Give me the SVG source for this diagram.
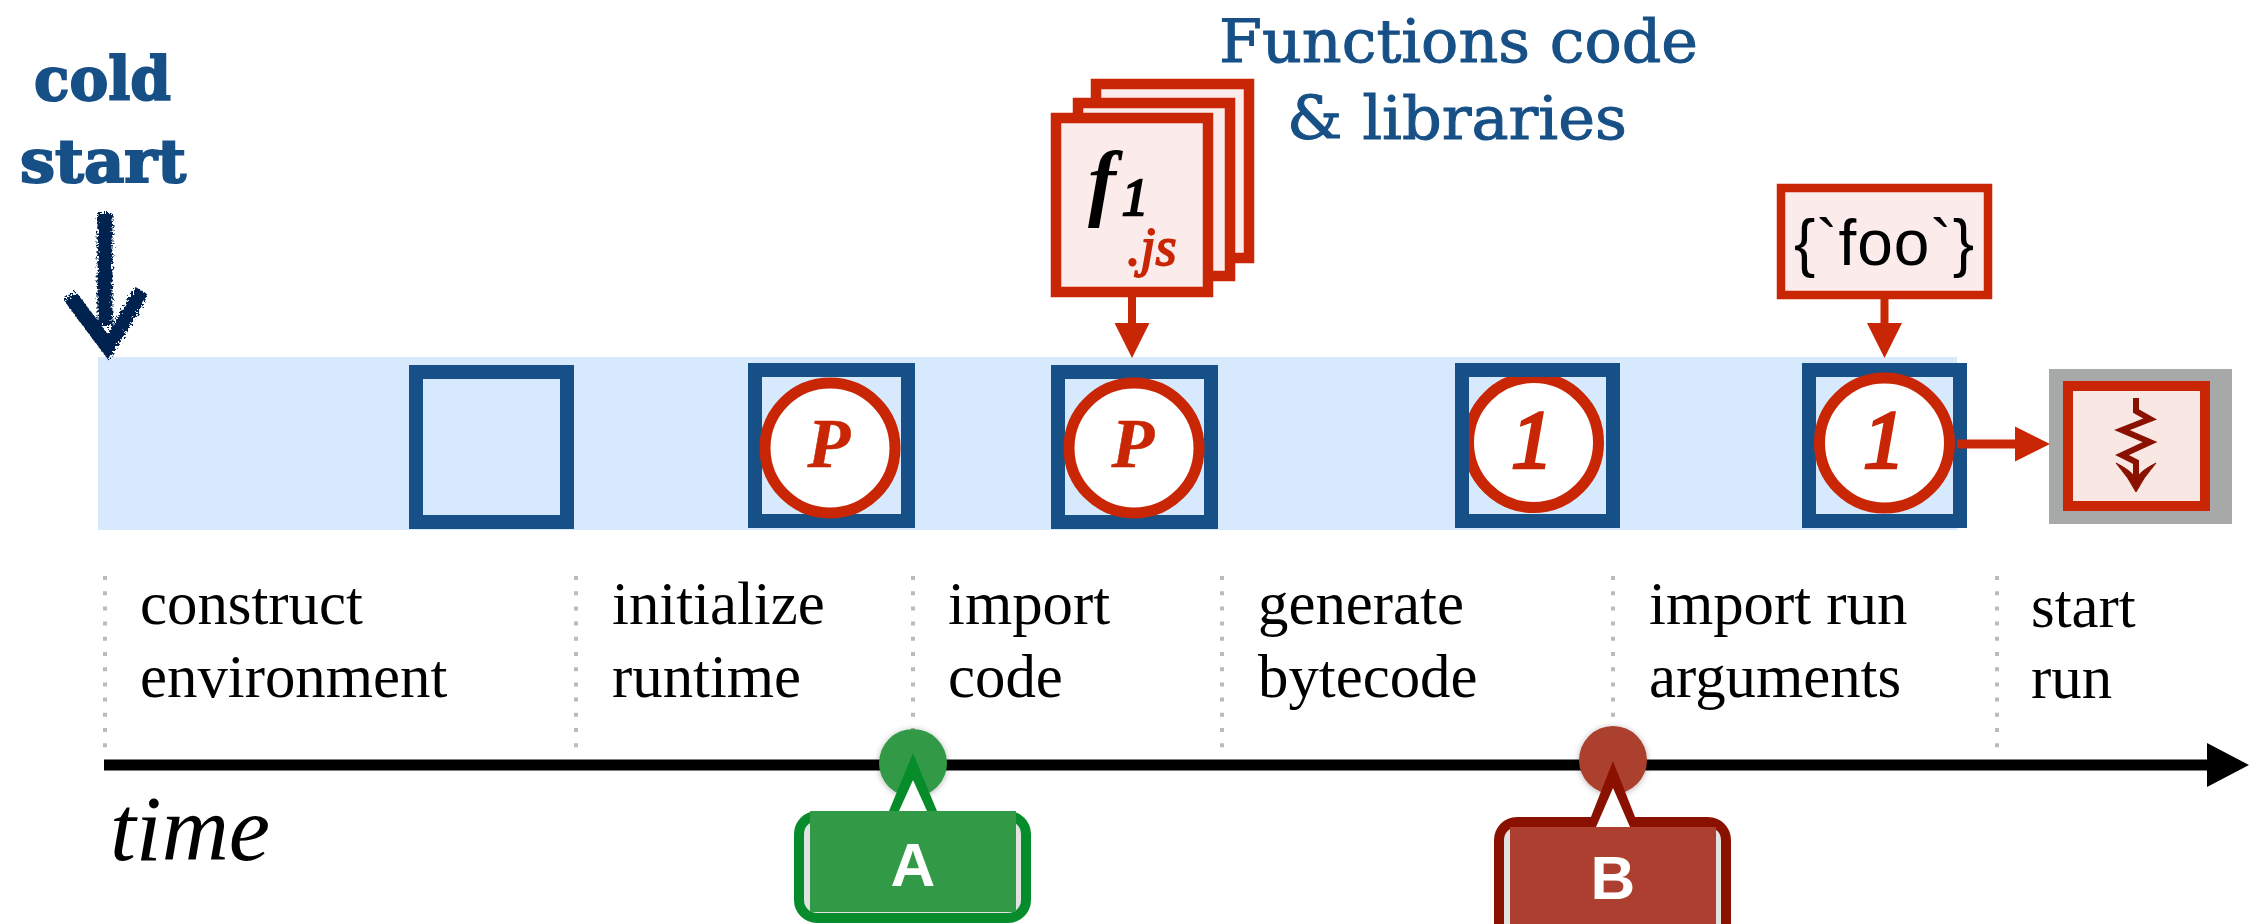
<svg xmlns="http://www.w3.org/2000/svg" width="2249" height="924" viewBox="0 0 2249 924">
<style>
.lbl{font-family:"Liberation Serif","Times New Roman",serif;font-size:60.8px;fill:#000}
.slab{font-family:"DejaVu Serif",serif;fill:#175086;stroke:#175086}
.sq{fill:none;stroke:#165087;stroke-width:14}
.cir{fill:#fff;stroke:#c92605;stroke-width:11}
.num{font-family:"Liberation Serif",serif;font-style:italic;fill:#c92605;stroke:#c92605;text-anchor:middle}
.page{fill:#fbeceb;stroke:#c92605;stroke-width:10.5}
.red{stroke:#c92605;stroke-width:8;fill:none}
.redh{fill:#c92605}
.dot{stroke:#bbb;stroke-width:4;stroke-dasharray:4 11.2;fill:none}
.badge{font-family:"Liberation Sans",Arial,sans-serif;font-weight:bold;font-size:62px;fill:#fff;text-anchor:middle}
</style>
<defs>
<filter id="rough" x="-20%" y="-20%" width="140%" height="140%"><feTurbulence type="fractalNoise" baseFrequency="0.45" numOctaves="2" seed="4"/><feDisplacementMap in="SourceGraphic" scale="9"/></filter>
<filter id="sh" x="-20%" y="-20%" width="140%" height="140%"><feDropShadow dx="0" dy="1" stdDeviation="3" flood-color="#000" flood-opacity="0.3"/></filter>
</defs>
<rect id="band" x="98" y="357" width="1859" height="173" fill="#d7e9fd"/>
<g id="dividers">
<path class="dot" d="M105 576V752"/><path class="dot" d="M576 576V752"/><path class="dot" d="M913 576V735"/><path class="dot" d="M1222 576V752"/><path class="dot" d="M1613 576V735"/><path class="dot" d="M1997 576V752"/>
</g>
<g id="cold-start">
<text class="slab" font-weight="bold" font-size="60" stroke-width="2" x="34" y="100" textLength="137" lengthAdjust="spacingAndGlyphs">cold</text>
<text class="slab" font-weight="bold" font-size="60" stroke-width="2" x="20" y="182" textLength="166" lengthAdjust="spacingAndGlyphs">start</text>
<path d="M105 213V325M70 296L108 347L142 291" fill="none" stroke="#00234f" stroke-width="15" filter="url(#rough)"/>
</g>
<g id="functions-label">
<text class="slab" font-size="60" stroke-width="1" x="1219" y="62" textLength="479" lengthAdjust="spacingAndGlyphs">Functions code</text>
<text class="slab" font-size="60" stroke-width="1" x="1287" y="139" textLength="340" lengthAdjust="spacingAndGlyphs">&amp; libraries</text>
</g>
<g id="step-1"><rect class="sq" x="416" y="372" width="151" height="150"/></g>
<g id="step-2"><rect class="sq" x="755" y="370" width="153" height="151"/><circle class="cir" cx="830" cy="448" r="65"/><text class="num" font-weight="bold" stroke-width="0.5" font-size="70" x="829" y="467">P</text></g>
<g id="step-3"><rect class="sq" x="1058" y="372" width="153" height="150"/><circle class="cir" cx="1134" cy="448" r="65"/><text class="num" font-weight="bold" stroke-width="0.5" font-size="70" x="1133" y="467">P</text></g>
<g id="step-4"><circle class="cir" cx="1533.500" cy="442.500" r="65"/><rect class="sq" x="1462" y="370" width="151" height="151"/><text class="num" stroke-width="3.500" font-size="82" x="1532" y="467">1</text></g>
<g id="step-5"><rect class="sq" x="1809" y="370" width="151" height="151"/><circle class="cir" cx="1884.500" cy="443" r="65"/><text class="num" stroke-width="3.500" font-size="82" x="1884" y="467">1</text></g>
<g id="code-stack">
<rect class="page" x="1096" y="84" width="153" height="174"/>
<rect class="page" x="1078" y="103" width="152" height="173"/>
<rect class="page" x="1056" y="118" width="152" height="174"/>
<text x="1088" y="210" font-family="Liberation Serif,serif" font-style="italic" font-weight="bold" font-size="84" fill="#000">f</text>
<text x="1122" y="215" font-family="Liberation Serif,serif" font-style="italic" font-size="52" fill="#000" stroke="#000" stroke-width="2.500">1</text>
<text x="1127" y="265" font-family="Liberation Serif,serif" font-style="italic" font-size="54" fill="#c92605" stroke="#c92605" stroke-width="1.800">.js</text>
</g>
<g id="args">
<rect x="1781" y="188" width="207" height="107" fill="#fbeceb" stroke="#c92605" stroke-width="8.500"/>
<text x="1794" y="265" font-family="Liberation Sans,Arial,sans-serif" font-size="64" fill="#000" textLength="180">{`foo`}</text>
</g>
<g id="run">
<rect x="2049" y="369" width="183" height="155" fill="#a6a9a8"/>
<rect x="2068" y="386" width="137" height="120" fill="#f9e7e4" stroke="#c92605" stroke-width="10"/>
<path d="M2136 398V411L2150 419L2122 430L2150 442L2122 455L2136 462V488" fill="none" stroke="#8a1000" stroke-width="6"/>
<path d="M2116 463Q2130 470 2136 478Q2142 470 2156 463Q2143 478 2136 492Q2129 478 2116 463Z" fill="#8a1000" stroke="#8a1000" stroke-width="1"/>
</g>
<g id="connectors">
<path class="red" d="M1132 297V325"/><path class="redh" d="M1114.500 323H1149.500L1132 358Z"/>
<path class="red" d="M1884.500 299V325"/><path class="redh" d="M1867 323H1902L1884.500 358Z"/>
<path d="M1957 444H2017" stroke="#c92605" stroke-width="9" fill="none"/><path class="redh" d="M2015 426.500V461.500L2050 444Z"/>
<path d="M104 765H2210" stroke="#000" stroke-width="11" fill="none"/><path d="M2207 743L2249 765L2207 787Z" fill="#000"/>
</g>
<g id="labels">
<text class="lbl" x="140" y="624">construct</text><text class="lbl" x="140" y="697">environment</text>
<text class="lbl" x="612" y="624">initialize</text><text class="lbl" x="612" y="697">runtime</text>
<text class="lbl" x="948" y="624">import</text><text class="lbl" x="948" y="697">code</text>
<text class="lbl" x="1258" y="624">generate</text><text class="lbl" x="1258" y="697">bytecode</text>
<text class="lbl" x="1649" y="624">import run</text><text class="lbl" x="1649" y="697">arguments</text>
<text class="lbl" x="2031" y="627">start</text><text class="lbl" x="2031" y="698">run</text>
<text x="110" y="860" font-family="Liberation Serif,serif" font-style="italic" font-size="93" fill="#000">time</text>
</g>
<g id="marker-a">
<circle cx="913" cy="763" r="34" fill="#329a46" filter="url(#sh)"/>
<path d="M913 753L937 811H889Z" fill="#078c2c"/><path d="M913 780L927 811H899Z" fill="#fff"/>
<rect x="799" y="816" width="227" height="102" rx="18" fill="#e2e2e2" stroke="#078c2c" stroke-width="10"/>
<rect x="810" y="811" width="206" height="101" fill="#329a46"/>
<text class="badge" x="913" y="886">A</text>
</g>
<g id="marker-b">
<circle cx="1613" cy="760" r="34" fill="#ac3f2f" filter="url(#sh)"/>
<rect x="1499" y="822" width="227" height="130" rx="18" fill="#e2e2e2" stroke="#8a1000" stroke-width="10"/>
<path d="M1613 761L1639 827H1587Z" fill="#8a1000"/><path d="M1613 788L1630 827H1596Z" fill="#fff"/>
<rect x="1510" y="827" width="206" height="97" fill="#ac3f2f"/>
<text class="badge" x="1613" y="899">B</text>
</g>
</svg>
